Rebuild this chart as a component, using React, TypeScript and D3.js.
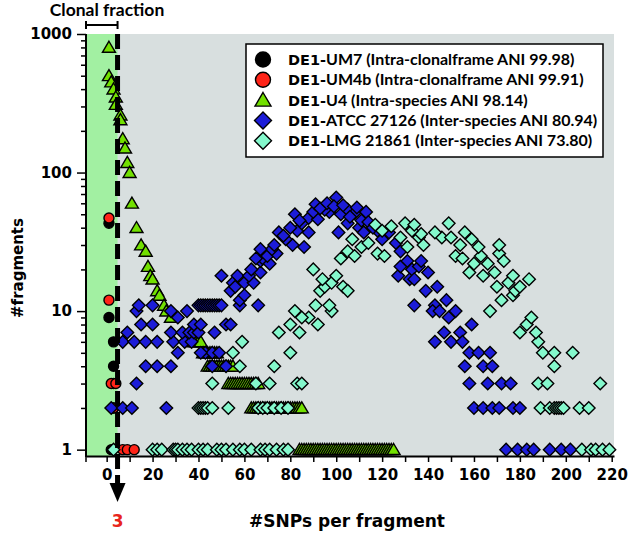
import React, { useEffect, useRef } from "react";
import * as d3 from "d3";

type Pt = [number, number]; // [SNPs per fragment, #fragments]

// DE1-UM7
const um7: Pt[] = [[1, 43], [1, 9], [3, 6], [3, 4], [3, 3], [3, 2], [2, 1]];

// DE1-UM4b
const um4b: Pt[] = [[1, 47], [1, 12], [2, 3], [4, 3], [3, 2], [7, 1], [9, 1], [12, 1]];

// DE1-U4
const u4: Pt[] = [
  [1, 800], [1, 500], [2, 450], [3, 400], [4, 350], [4, 310], [6, 260], [6, 240], [7, 175], [8, 150],
  [9, 118], [10, 100], [11, 60], [13, 40], [15, 30], [17, 27], [18, 21], [19, 18], [20, 17], [22, 14],
  [23, 13], [25, 11], [26, 10], [28, 9],
  [38, 6], [39, 6], [40, 6], [41, 6],
  [42, 5], [43, 5], [44, 5], [45, 5], [46, 5], [47, 5], [48, 5],
  [44, 4], [45, 4], [46, 4], [47, 4], [48, 4], [49, 4], [50, 4], [51, 4], [52, 4], [53, 4], [54, 4], [55, 4],
  [53, 3], [54, 3], [55, 3], [56, 3], [57, 3], [58, 3], [59, 3], [60, 3], [61, 3], [62, 3], [63, 3], [64, 3],
  [65, 3], [66, 3],
  [63, 2], [64, 2], [65, 2], [66, 2], [67, 2], [68, 2], [69, 2], [70, 2], [71, 2], [72, 2], [73, 2], [74, 2],
  [75, 2], [76, 2], [77, 2], [78, 2], [79, 2], [80, 2], [81, 2], [82, 2], [83, 2], [84, 2], [85, 2],
  [84, 1], [85, 1], [86, 1], [87, 1], [88, 1], [89, 1], [90, 1], [91, 1], [92, 1], [93, 1], [94, 1], [95, 1],
  [96, 1], [97, 1], [98, 1], [99, 1], [100, 1], [101, 1], [102, 1], [103, 1], [104, 1], [105, 1], [106, 1],
  [107, 1], [108, 1], [109, 1], [110, 1], [111, 1], [112, 1], [113, 1], [114, 1], [115, 1], [116, 1], [117, 1],
  [118, 1], [119, 1], [120, 1], [121, 1], [122, 1], [123, 1], [124, 1], [125, 1],
];

// DE1-ATCC 27126
const atcc: Pt[] = [
  [2, 2], [7, 2], [11, 2], [26, 2], [13, 3],
  [17, 4], [22, 4], [28, 4], [46, 4], [52, 4],
  [31, 5], [43, 5], [46, 5], [49, 5], [41, 5],
  [7, 6], [12, 6], [17, 6], [22, 6], [29, 6], [34, 6], [37, 6],
  [9, 7], [28, 7], [33, 7], [36, 7], [38, 7], [40, 7], [47, 7],
  [15, 8], [20, 8], [38, 8], [41, 8], [52, 8], [54, 8], [31, 9],
  [13, 10], [28, 10], [35, 10],
  [14, 11], [20, 11], [40, 11], [41, 11], [42, 11], [43, 11], [44, 11], [45, 11], [46, 11], [47, 11],
  [48, 11], [49, 11], [50, 11], [58, 11], [66, 11],
  [54, 14], [58, 12], [60, 13], [55, 16], [56, 15], [60, 16], [64, 16],
  [50, 18], [57, 18], [62, 18], [67, 19], [63, 20], [67, 23], [68, 24], [71, 22],
  [70, 25], [74, 26], [72, 28], [67, 28], [81, 30], [86, 29], [78, 33], [75, 37], [83, 38], [88, 37],
  [101, 37], [85, 43], [105, 43], [110, 40], [88, 47], [92, 46], [82, 50], [90, 52], [97, 52], [102, 50],
  [95, 54], [105, 54], [108, 51], [113, 52], [91, 59], [100, 66], [109, 56],
  [84, 45], [93, 55], [96, 60], [99, 57], [103, 58], [106, 48], [111, 45], [114, 44], [118, 38], [80, 40],
  [77, 35], [73, 30], [65, 24],
  [112, 37], [116, 40], [120, 33], [123, 37], [126, 31], [127, 18], [128, 21], [128, 27], [131, 23], [132, 17],
  [133, 20], [134, 11], [134, 17], [136, 21], [137, 23], [139, 14], [140, 19], [143, 11], [142, 10], [144, 15],
  [145, 10], [147, 7], [148, 12], [149, 9], [152, 10], [159, 8],
  [143, 6], [150, 6], [154, 7], [155, 6], [158, 5], [162, 5], [167, 5], [156, 4], [164, 4], [168, 4],
  [158, 3], [166, 3], [172, 3], [176, 3], [160, 2], [164, 2], [168, 2], [171, 2], [177, 2], [180, 2],
  [174, 1], [179, 1], [183, 1], [186, 1], [193, 1], [198, 1], [202, 1],
];

// DE1-LMG 21861
const lmg: Pt[] = [
  [3, 1], [20, 1], [22, 1], [24, 1], [29, 1], [30, 1], [31, 1], [33, 1], [35, 1], [37, 1], [40, 1], [42, 1],
  [44, 1], [48, 1], [50, 1], [52, 1], [55, 1], [58, 1], [60, 1], [63, 1], [67, 1], [69, 1], [71, 1], [74, 1],
  [77, 1], [79, 1], [207, 1], [211, 1], [213, 1], [216, 1], [219, 1],
  [40, 2], [41, 2], [42, 2], [43, 2], [44, 2], [46, 2], [53, 2], [66, 2], [68, 2], [70, 2], [73, 2], [76, 2],
  [79, 2], [189, 2], [193, 2], [195, 2], [196, 2], [197, 2], [198, 2], [199, 2], [206, 2], [210, 2],
  [46, 3], [65, 3], [71, 3], [83, 3], [85, 3], [188, 3], [192, 3], [215, 3],
  [58, 4], [73, 4], [195, 4],
  [55, 5], [80, 5], [190, 5], [195, 5], [203, 5],
  [59, 6], [188, 6],
  [75, 7], [84, 7], [180, 7], [187, 7],
  [80, 8], [92, 8], [183, 8],
  [88, 9], [85, 9], [82, 10], [98, 10], [167, 10], [185, 9],
  [91, 11], [97, 11], [172, 12], [177, 13],
  [93, 14], [95, 15], [103, 15], [105, 14], [98, 16], [170, 15], [175, 16], [178, 14], [180, 15],
  [94, 17], [100, 18], [90, 20], [158, 19], [164, 18], [169, 19], [177, 18], [184, 17],
  [102, 24], [105, 27], [108, 25], [118, 26], [121, 25], [152, 25], [155, 24], [160, 22], [163, 25], [166, 22],
  [171, 26], [173, 23],
  [107, 33], [111, 29], [114, 31], [128, 34], [131, 29], [136, 34], [138, 30], [146, 34], [150, 34], [154, 30],
  [159, 33], [162, 29], [171, 30], [137, 36],
  [117, 42], [120, 38], [124, 41], [130, 43], [133, 38], [134, 42], [143, 37], [149, 43], [156, 37],
];

const seriesStrains = ["UM7", "UM4b", "U4", "ATCC 27126", "LMG 21861"];
const seriesNotes = [
  "(Intra-clonalframe ANI 99.98)",
  "(Intra-clonalframe ANI 99.91)",
  "(Intra-species ANI 98.14)",
  "(Inter-species ANI 80.94)",
  "(Inter-species ANI 73.80)",
];
const xTickValues = [-10, 0, 10, 20, 30, 40, 50, 60, 70, 80, 90, 100, 110, 120, 130, 140, 150, 160, 170, 180, 190, 200, 210, 220];
const xTickLabels = [0, 20, 40, 60, 80, 100, 120, 140, 160, 180, 200, 220];
const yTickLabels = [1, 10, 100, 1000];
const clonalCutoff = 3;

const shapePath = (shape: string, s: number) => {
  if (shape === "circle") return `M${s},0A${s},${s} 0 1,1 ${-s},0A${s},${s} 0 1,1 ${s},0Z`;
  if (shape === "triangle") return `M0,${-s * 0.95}L${s},${s * 0.75}L${-s},${s * 0.75}Z`;
  return `M0,${-s}L${s},0L0,${s}L${-s},0Z`;
};

export default function App() {
  const ref = useRef<SVGSVGElement>(null);

  useEffect(() => {
    document.body.style.margin = "0";
    const svg = d3.select(ref.current);
    svg.selectAll("*").remove();

    const left = 86, right = 614, top = 34, bottom = 456;
    const x = d3.scaleLinear().domain([-9, 221]).range([left, right]);
    const y = d3.scaleLog().domain([0.9, 1000]).range([bottom, top]);
    const axisFont = "'DejaVu Sans', sans-serif";
    const cx = x(clonalCutoff) + 4; // the marker line sits just right of the value

    // backgrounds
    svg.append("rect").attr("x", left).attr("y", top).attr("width", right - left).attr("height", bottom - top).attr("fill", "#d8dfdf");
    svg.append("rect").attr("x", left).attr("y", top).attr("width", cx - left).attr("height", bottom - top).attr("fill", "#a2f0a2");

    // y axis
    const minor: number[] = [];
    [1, 10, 100].forEach(d => { for (let k = 2; k <= 9; k++) minor.push(d * k); });
    svg.append("g").attr("transform", `translate(${left},0)`)
      .call(d3.axisLeft(y).tickValues(minor).tickSize(5).tickSizeOuter(0).tickFormat(() => ""))
      .call(g => g.select(".domain").remove())
      .selectAll("line").attr("stroke-width", 1.5);
    const yAx = svg.append("g").attr("transform", `translate(${left},0)`)
      .call(d3.axisLeft(y).tickValues(yTickLabels).tickSize(9).tickPadding(5).tickSizeOuter(0).tickFormat(d3.format("d")));
    yAx.select(".domain").remove();
    yAx.selectAll("line").attr("stroke-width", 1.5);
    yAx.selectAll("text").attr("font-family", axisFont).attr("font-weight", "bold").attr("font-size", 15).attr("fill", "#000");
    svg.append("line").attr("x1", left).attr("x2", left).attr("y1", top).attr("y2", bottom + 1).attr("stroke", "#000").attr("stroke-width", 2);

    // x axis
    const xAx = svg.append("g").attr("transform", `translate(0,${bottom})`)
      .call(d3.axisBottom(x).tickValues(xTickValues.filter(v => v >= -9)).tickSize(6).tickPadding(7).tickSizeOuter(0)
        .tickFormat(d => (xTickLabels.includes(d as number) ? String(d) : "")));
    xAx.select(".domain").attr("stroke-width", 2);
    xAx.selectAll("line").attr("stroke-width", 1.5);
    xAx.selectAll("text").attr("font-family", axisFont).attr("font-weight", "bold").attr("font-size", 15).attr("fill", "#000");
    xAx.append("line").attr("x1", left).attr("x2", left).attr("y1", 0).attr("y2", 6).attr("stroke", "#000").attr("stroke-width", 1.5);

    // points
    const series = [
      { data: um7, fill: "#000000", shape: "circle", size: 5 },
      { data: um4b, fill: "#ff2418", shape: "circle", size: 5 },
      { data: u4, fill: "#72e000", shape: "triangle", size: 6.5 },
      { data: atcc, fill: "#1c1cd8", shape: "diamond", size: 6.3 },
      { data: lmg, fill: "#84f8cc", shape: "diamond", size: 6.3 },
    ];
    series.forEach(s => {
      svg.append("g").selectAll("path").data(s.data).join("path")
        .attr("transform", d => `translate(${x(d[0])},${y(d[1])})`)
        .attr("d", shapePath(s.shape, s.size))
        .attr("fill", s.fill).attr("stroke", "#000").attr("stroke-width", 1.4);
    });

    // clonal cutoff dashed line + arrow
    svg.append("line").attr("x1", cx).attr("x2", cx).attr("y1", top).attr("y2", 484)
      .attr("stroke", "#000").attr("stroke-width", 5).attr("stroke-dasharray", "15,6");
    svg.append("path").attr("d", `M${cx - 8},483L${cx + 8},483L${cx},502Z`).attr("fill", "#000");
    svg.append("text").attr("x", cx).attr("y", 527).attr("text-anchor", "middle")
      .attr("font-family", axisFont).attr("font-weight", "bold").attr("font-size", 17).attr("fill", "#e8251c")
      .text(String(clonalCutoff));

    // clonal fraction bracket
    svg.append("path").attr("d", `M${left},21V29M${left},25H${cx}M${cx},21V29`).attr("stroke", "#000").attr("stroke-width", 2).attr("fill", "none");
    svg.append("text").attr("x", 107).attr("y", 16).attr("text-anchor", "middle")
      .attr("font-family", "Lato, sans-serif").attr("font-weight", "bold").attr("font-size", 17.5).text("Clonal fraction");

    // axis titles
    svg.append("text").attr("x", 347).attr("y", 527).attr("text-anchor", "middle")
      .attr("font-family", axisFont).attr("font-weight", "bold").attr("font-size", 17).text("#SNPs per fragment");
    svg.append("text").attr("transform", "translate(23,268) rotate(-90)").attr("text-anchor", "middle")
      .attr("font-family", axisFont).attr("font-weight", "bold").attr("font-size", 15).text("#fragments");

    // legend
    const lg = svg.append("g");
    lg.append("rect").attr("x", 246).attr("y", 44).attr("width", 357).attr("height", 113)
      .attr("fill", "#fff").attr("stroke", "#000").attr("stroke-width", 1.5);
    series.forEach((s, i) => {
      const cy = 59.5 + i * 20.3;
      lg.append("path").attr("transform", `translate(263,${cy})`)
        .attr("d", shapePath(s.shape, s.shape === "circle" ? 7.5 : s.shape === "triangle" ? 8 : 8.5))
        .attr("fill", s.fill).attr("stroke", "#000").attr("stroke-width", 1.4);
      const t = lg.append("text").attr("x", 288).attr("y", cy + 5.5);
      t.append("tspan").attr("font-family", axisFont).attr("font-weight", "bold").attr("font-size", 14.5).text("DE1-");
      t.append("tspan").attr("font-family", "Lato, sans-serif").attr("font-weight", "bold").attr("font-size", 16)
        .text(`${seriesStrains[i]} ${seriesNotes[i]}`);
    });
  }, []);

  return (
    <div id="chart">
      <svg ref={ref} width={633} height={538} style={{ display: "block" }} />
    </div>
  );
}
